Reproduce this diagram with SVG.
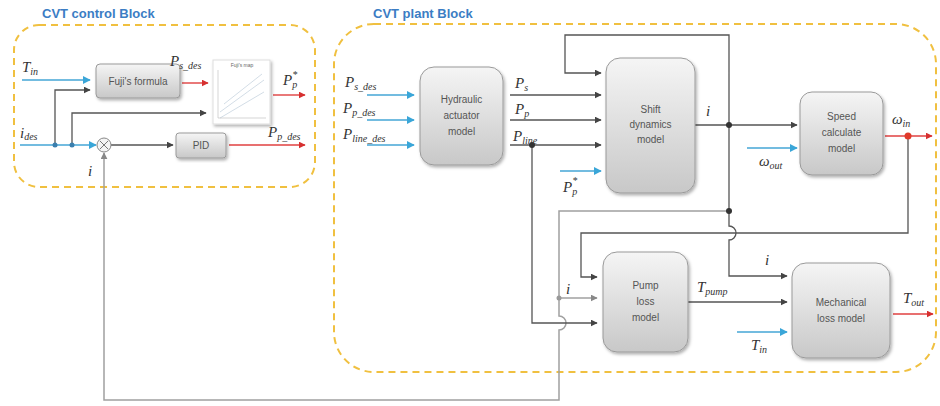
<svg xmlns="http://www.w3.org/2000/svg" width="940" height="406" viewBox="0 0 940 406">
<defs>
<style>
.title{font-family:"Liberation Sans",Arial,sans-serif;font-weight:bold;font-size:13px;fill:#3b7dc4}
.frame{fill:none;stroke:#f0c040;stroke-width:2;stroke-dasharray:7,5}
.box{fill:url(#g);stroke:#9a9a9a;stroke-width:1;filter:url(#sh)}
.bt{font-family:"Liberation Sans",Arial,sans-serif;font-size:10px;fill:#555;text-anchor:middle}
.m{font-family:"Liberation Serif","Times New Roman",serif;font-style:italic;font-size:15px;fill:#333}
.s{font-size:10px}
.k{fill:none;stroke:#555;stroke-width:1.3}
.kg{fill:none;stroke:#a0a0a0;stroke-width:1.5}
.b{fill:none;stroke:#45a6d6;stroke-width:1.6}
.r{fill:none;stroke:#e04040;stroke-width:1.4}
</style>
<linearGradient id="g" x1="0" y1="0" x2="0" y2="1">
<stop offset="0" stop-color="#f5f5f5"/><stop offset="1" stop-color="#c8c8c8"/>
</linearGradient>
<filter id="sh" x="-20%" y="-20%" width="140%" height="140%">
<feDropShadow dx="1.5" dy="2" stdDeviation="1.5" flood-color="#000" flood-opacity="0.3"/>
</filter>
<marker id="ak" viewBox="0 0 10 10" refX="9" refY="5" markerWidth="7" markerHeight="7" markerUnits="userSpaceOnUse" orient="auto"><path d="M0,0 L10,5 L0,10 z" fill="#444"/></marker>
<marker id="ag" viewBox="0 0 10 10" refX="9" refY="5" markerWidth="7" markerHeight="7" markerUnits="userSpaceOnUse" orient="auto"><path d="M0,0 L10,5 L0,10 z" fill="#888"/></marker>
<marker id="ab" viewBox="0 0 10 10" refX="9" refY="5" markerWidth="8" markerHeight="8" markerUnits="userSpaceOnUse" orient="auto"><path d="M0,0 L10,5 L0,10 z" fill="#3aa6d8"/></marker>
<marker id="ar" viewBox="0 0 10 10" refX="9" refY="5" markerWidth="7" markerHeight="7" markerUnits="userSpaceOnUse" orient="auto"><path d="M0,0 L10,5 L0,10 z" fill="#d63030"/></marker>
</defs>
<rect width="940" height="406" fill="#fff"/>

<g id="control-block">
<text class="title" x="42" y="18">CVT control Block</text>
<rect class="frame" x="14" y="25" width="301" height="162" rx="25"/>
</g>
<g id="plant-block">
<text class="title" x="373" y="18">CVT plant Block</text>
<rect class="frame" x="334" y="24" width="602" height="348" rx="40"/>
</g>

<g id="connectors">
<!-- control block -->
<path class="b" d="M22,80 H90" marker-end="url(#ab)"/>
<path class="b" d="M20,145 H96" marker-end="url(#ab)"/>
<path class="k" d="M55,145 V90 H90" marker-end="url(#ak)"/>
<path class="k" d="M72,145 V113 H206" marker-end="url(#ak)"/>
<path class="k" d="M111,145 H173" marker-end="url(#ak)"/>
<path class="r" d="M182,83 H208" marker-end="url(#ar)"/>
<path class="r" d="M273,95 H305" marker-end="url(#ar)"/>
<path class="r" d="M229,145 H305" marker-end="url(#ar)"/>
<!-- i feedback loop -->
<path class="kg" d="M729,211 H559 V316 a7,7 0 0 1 0,14 V400 H104 V153" marker-end="url(#ag)"/>
<path class="kg" d="M559,298 H597" marker-end="url(#ag)"/>
<!-- hydraulic inputs -->
<path class="b" d="M367,95 H414" marker-end="url(#ab)"/>
<path class="b" d="M367,120 H414" marker-end="url(#ab)"/>
<path class="b" d="M367,145 H414" marker-end="url(#ab)"/>
<!-- hydraulic outputs -->
<path class="k" d="M510,95 H601" marker-end="url(#ak)"/>
<path class="k" d="M510,120 H601" marker-end="url(#ak)"/>
<path class="k" d="M510,145 H601" marker-end="url(#ak)"/>
<path class="b" d="M560,171 H601" marker-end="url(#ab)"/>
<!-- top i loop -->
<path class="k" d="M729,125 V35 H565 V73 H601" marker-end="url(#ak)"/>
<!-- shift output i -->
<path class="k" d="M695,125 H797" marker-end="url(#ak)"/>
<path class="b" d="M747,148 H797" marker-end="url(#ab)"/>
<path class="r" d="M885,136 H932" marker-end="url(#ar)"/>
<!-- i down to mechanical -->
<path class="k" d="M729,125 V226 a7,7 0 0 1 0,14 V276 H787" marker-end="url(#ak)"/>
<!-- omega_in feedback -->
<path class="k" d="M908,136 V233 H581 V277 H597" marker-end="url(#ak)"/>
<!-- P_line to pump -->
<path class="k" d="M532,145 V323 H597" marker-end="url(#ak)"/>
<!-- pump to mechanical -->
<path class="k" d="M688,302 H787" marker-end="url(#ak)"/>
<path class="b" d="M737,332 H787" marker-end="url(#ab)"/>
<path class="r" d="M893,314 H933" marker-end="url(#ar)"/>
<!-- junctions -->
<circle cx="55" cy="145" r="2.5" fill="#3a7fae"/>
<circle cx="72" cy="145" r="2.5" fill="#3a7fae"/>
<circle cx="532" cy="145" r="3" fill="#333"/>
<circle cx="729" cy="125" r="3" fill="#333"/>
<circle cx="729" cy="211" r="3" fill="#333"/>
<circle cx="559" cy="298" r="2.5" fill="#999"/>
<circle cx="908" cy="136" r="3.5" fill="#e03a2a"/>
</g>

<g id="fuji-formula">
<rect class="box" x="96" y="64" width="84" height="34" rx="4"/>
<text class="bt" x="138" y="85" font-size="8">Fuji's formula</text>
</g>
<g id="fuji-map">
<rect x="213" y="60" width="57" height="64" fill="#fff" stroke="#ddd" filter="url(#sh)"/>
<text x="242" y="67" font-family="Liberation Sans,Arial,sans-serif" font-size="5" fill="#666" text-anchor="middle">Fuji's map</text>
<path d="M220,112 L264,80 M220,118 L264,92 M224,104 L262,74" stroke="#c8d4e0" stroke-width="0.8" fill="none"/>
<path d="M218,70 V118 H266" stroke="#bbb" stroke-width="0.6" fill="none"/>
</g>
<g id="sum">
<circle cx="104" cy="145" r="7" fill="#f4f4f4" stroke="#888"/>
<path d="M100,141 L108,149 M108,141 L100,149" stroke="#777" stroke-width="1"/>
</g>
<g id="pid">
<rect class="box" x="176" y="133" width="50" height="25" rx="3"/>
<text class="bt" x="201" y="149" font-size="8">PID</text>
</g>
<g id="hydraulic">
<rect class="box" x="420" y="67" width="83" height="98" rx="14"/>
<text class="bt" x="461.5" y="103">Hydraulic</text>
<text class="bt" x="461.5" y="119">actuator</text>
<text class="bt" x="461.5" y="135">model</text>
</g>
<g id="shift">
<rect class="box" x="606" y="58" width="89" height="135" rx="14"/>
<text class="bt" x="650.5" y="113">Shift</text>
<text class="bt" x="650.5" y="128">dynamics</text>
<text class="bt" x="650.5" y="143">model</text>
</g>
<g id="speed">
<rect class="box" x="800" y="92" width="83" height="83" rx="12"/>
<text class="bt" x="841.5" y="120">Speed</text>
<text class="bt" x="841.5" y="136">calculate</text>
<text class="bt" x="841.5" y="152">model</text>
</g>
<g id="pump">
<rect class="box" x="603" y="252" width="85" height="100" rx="14"/>
<text class="bt" x="645.5" y="289">Pump</text>
<text class="bt" x="645.5" y="305">loss</text>
<text class="bt" x="645.5" y="321">model</text>
</g>
<g id="mechanical">
<rect class="box" x="792" y="263" width="98" height="95" rx="14"/>
<text class="bt" x="841" y="306">Mechanical</text>
<text class="bt" x="841" y="322">loss model</text>
</g>

<g id="labels">
<text class="m" x="22" y="72">T<tspan class="s" dy="3">in</tspan></text>
<text class="m" x="20" y="138" font-size="12">i<tspan class="s" font-size="7" dy="2">des</tspan></text>
<text class="m" x="170" y="66" font-size="13">P<tspan class="s" font-size="8" dy="3">s_des</tspan></text>
<text class="m" x="283" y="85" font-size="13">P<tspan class="s" font-size="8" dy="3">p</tspan><tspan class="s" font-size="8" dx="-5" dy="-10">*</tspan></text>
<text class="m" x="268" y="137" font-size="13">P<tspan class="s" font-size="8" dy="3">p_des</tspan></text>
<text class="m" x="88" y="176" font-size="12">i</text>
<text class="m" x="345" y="87">P<tspan class="s" dy="3">s_des</tspan></text>
<text class="m" x="343" y="113">P<tspan class="s" dy="3">p_des</tspan></text>
<text class="m" x="343" y="139">P<tspan class="s" dy="3">line_des</tspan></text>
<text class="m" x="515" y="88">P<tspan class="s" dy="3">s</tspan></text>
<text class="m" x="515" y="114">P<tspan class="s" dy="3">p</tspan></text>
<text class="m" x="513" y="141">P<tspan class="s" dy="3">line</tspan></text>
<text class="m" x="563" y="192">P<tspan class="s" dy="3">p</tspan><tspan class="s" dx="-5" dy="-11">*</tspan></text>
<text class="m" x="706" y="116" font-size="13">i</text>
<text class="m" x="759" y="166" font-size="13">ω<tspan class="s" dy="3">out</tspan></text>
<text class="m" x="892" y="124" font-size="13">ω<tspan class="s" dy="3">in</tspan></text>
<text class="m" x="765" y="265" font-size="13">i</text>
<text class="m" x="566" y="294" font-size="13">i</text>
<text class="m" x="697" y="292">T<tspan class="s" dy="3">pump</tspan></text>
<text class="m" x="751" y="350">T<tspan class="s" dy="3">in</tspan></text>
<text class="m" x="903" y="303">T<tspan class="s" dy="3">out</tspan></text>
</g>
</svg>
